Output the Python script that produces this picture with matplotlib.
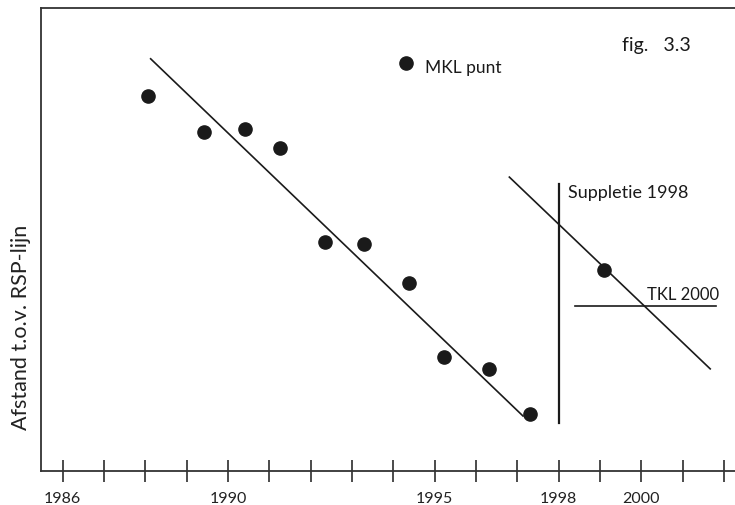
import numpy as np
import matplotlib
matplotlib.use("Agg")
import matplotlib.pyplot as plt

plt.rcParams['font.family'] = ['Lato', 'DejaVu Sans']

# MKL punten (jaar, afstand t.o.v. RSP-lijn, willekeurige eenheid)
mkl_jaar = [1988.07, 1989.43, 1990.41, 1991.27, 1992.35, 1993.30,
            1994.39, 1995.24, 1996.32, 1997.31, 1999.10]
mkl_afstand = [81.2, 73.3, 73.9, 70.0, 49.6, 49.1,
               40.6, 24.7, 22.1, 12.3, 43.5]

# trendlijnen
trend1_jaar = [1988.13, 1997.14]
trend1_afstand = [89.2, 11.9]
trend2_jaar = [1996.81, 2001.67]
trend2_afstand = [63.6, 22.1]

# suppletie 1998 (verticale lijn) en TKL 2000 (horizontale lijn)
suppletie_jaar = 1998.0
suppletie_van_tot = [10.4, 62.1]
tkl_afstand = 35.6
tkl_van_tot = [1998.41, 2001.82]

jaren = list(range(1986, 2003))
jaar_labels = {1986: "1986", 1990: "1990", 1995: "1995", 1998: "1998", 2000: "2000"}

fig = plt.figure(figsize=(7.35, 5.06), dpi=100)
ax = fig.add_axes([0.0554, 0.0672, 0.9446, 0.916])

ink = "#1a1a1a"
ax.plot(trend1_jaar, trend1_afstand, color=ink, lw=1.2)
ax.plot(trend2_jaar, trend2_afstand, color=ink, lw=1.2)
ax.plot([suppletie_jaar, suppletie_jaar], suppletie_van_tot, color=ink, lw=1.6)
ax.plot(tkl_van_tot, [tkl_afstand, tkl_afstand], color=ink, lw=1.2)
ax.plot(mkl_jaar, mkl_afstand, 'o', color=ink, markersize=9.5, ls='none')

# legenda punt
ax.plot([1994.31], [88.3], 'o', color=ink, markersize=9.5)
ax.text(1994.77, 87.5, "MKL punt", fontsize=12.5, va='center', ha='left', color=ink)

ax.text(1998.22, 60.4, "Suppletie 1998", fontsize=13, va='center', ha='left', color=ink)
ax.text(2000.15, 38.3, "TKL 2000", fontsize=12, va='center', ha='left', color=ink)
ax.text(1999.53, 92.4, "fig.   3.3", fontsize=14, va='center', ha='left', color=ink)

ax.set_xlim(1985.47, 2002.27)
ax.set_ylim(0, 100.3)
ax.set_xticks(jaren)
ax.set_xticklabels([jaar_labels.get(j, "") for j in jaren], fontsize=11.5, color="#222222")
ax.set_yticks([])
ax.tick_params(axis='x', direction='inout', length=16.5, width=1.1, color=ink, pad=6)

for s in ['left', 'bottom', 'top']:
    ax.spines[s].set_color("#333333")
    ax.spines[s].set_linewidth(1.3)
ax.spines['right'].set_visible(False)

fig.text(21 / 735, 1 - 327 / 506, "Afstand t.o.v. RSP-lijn", rotation=90,
         fontsize=15.5, va='center', ha='center', color="#222222")

fig.savefig("out.png", dpi=100)
